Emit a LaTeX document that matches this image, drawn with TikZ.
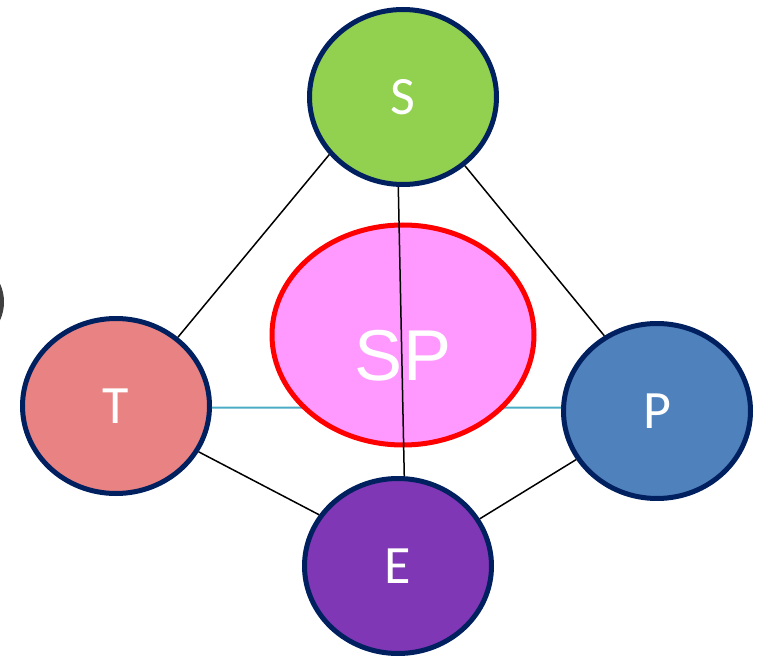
\documentclass[tikz,border=0pt]{standalone}
\usepackage{fontspec}
\setmainfont{Carlito}
\newfontfamily\spfont{Liberation Sans}
\usetikzlibrary{shapes.geometric}
\definecolor{navy}{HTML}{002060}
\definecolor{sgreen}{HTML}{92D050}
\definecolor{tsalmon}{HTML}{E98282}
\definecolor{pblue}{HTML}{4F81BD}
\definecolor{epurple}{HTML}{7F37B5}
\definecolor{sppink}{HTML}{FF99FF}
\definecolor{tpcyan}{HTML}{4BACC6}
\tikzset{
  pole/.style={ellipse,draw=navy,line width=5pt,minimum width=187pt,minimum height=175pt,
    inner sep=0pt,text=white,font=\fontsize{54}{54}\selectfont},
  link/.style={black,line width=1.5pt}
}
\begin{document}
\begin{tikzpicture}[x=1pt,y=-1pt]
\useasboundingbox (0,0) rectangle (761,658);
\fill[black!75] (-40,302) circle (44pt);

\node[pole,fill=sgreen] (S) at (403,97) {S};
\node[pole,fill=tsalmon] (T) at (116,406) {T};
\node[pole,fill=pblue] (P) at (657,411) {P};
\node[pole,fill=epurple] (E) at (398,566) {E};

\draw[tpcyan,line width=2pt] (T.-1) -- (P.178);
\node[ellipse,draw=red,fill=sppink,line width=5pt,minimum width=262pt,minimum height=220pt,
  label={[text=white,font=\spfont\fontsize{72}{72}\selectfont,yshift=-21pt]center:SP}] (SP) at (403,335) {};

\draw[link] (S.-93) -- (E.86);
\draw[link] (S.218) -- (T.48);
\draw[link] (S.-48) -- (P.125);
\draw[link] (T.-29) -- (E.147);
\draw[link] (P.211) -- (E.30);
\end{tikzpicture}
\end{document}
